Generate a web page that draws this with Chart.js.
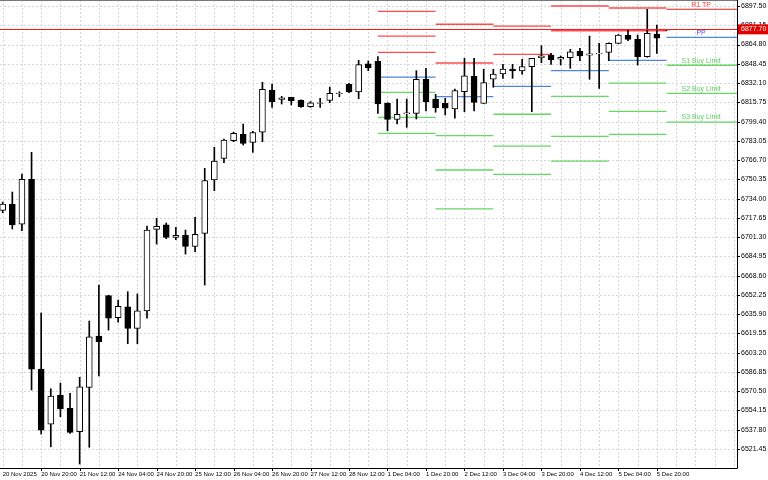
<!DOCTYPE html>
<html><head><meta charset="utf-8">
<script src="https://cdn.jsdelivr.net/npm/chart.js@4/dist/chart.umd.min.js"></script>
<style>html,body{margin:0;padding:0;background:#fff}#w{width:768px;height:480px}</style>
</head><body><div id="w"><canvas id="c"></canvas></div>
<script>
const opens=[6724,6729.1,6712.2,6750.4,6589.3,6542.6,6567,6556,6536.1,6573.8,6617.3,6651.6,6632.9,6642.2,6623.9,6638.6,6707.9,6711.8,6701.1,6702.8,6693.5,6704.5,6749.8,6768.2,6783.1,6788.6,6781.8,6790.3,6826.2,6818.3,6820,6817.4,6812,6814.9,6817.4,6823,6831,6824.5,6848.5,6850.6,6814.9,6801.3,6805.9,6806.4,6835.3,6818.5,6814.9,6810.1,6824.8,6837.8,6814.9,6835.3,6839.8,6844,6842.3,6846,6853.6,6855.9,6852.3,6853.6,6859.3,6855.7,6856.8,6858.2,6865.8,6872.9,6869.2,6854.5,6873.7,6876.9];
const highs=[6731,6739.6,6754.9,6773.3,6636.9,6572.6,6577.4,6568.7,6582.3,6630.1,6660.6,6652,6647.9,6655,6653,6710.7,6717.3,6713.3,6709.6,6707.3,6718.1,6759.7,6777.5,6784.6,6790.5,6797.3,6791.1,6832.7,6831.3,6820.8,6820,6817.9,6816.4,6819.1,6828.7,6824.7,6831.8,6851.4,6850.8,6854.5,6815.4,6818.5,6818.5,6842.6,6844.6,6822.5,6819.1,6827,6853.1,6853.1,6843.8,6843.8,6848,6848,6852.3,6853.1,6863.8,6857.3,6855.1,6860.7,6861.6,6872,6865.8,6866.3,6873.3,6877.1,6872.9,6894.7,6881.4,6877.7];
const lows=[6722,6708.2,6706.7,6571.5,6534.1,6523.3,6548.8,6534.7,6508.7,6522.9,6583.4,6622.4,6629.2,6610.8,6610.8,6632.4,6695.4,6700,6699.1,6686.9,6688.9,6660.6,6740.7,6764.5,6782.3,6779.5,6773.3,6782.3,6811.5,6814.3,6813.5,6811.5,6811.5,6811.5,6815.4,6820.5,6824,6818.8,6842.6,6806.4,6791.6,6797.3,6794.5,6801.6,6808.4,6807.3,6805,6802.2,6807.8,6808.4,6814.9,6828.5,6836.1,6836.1,6839.5,6807.8,6849.4,6848,6847.4,6844.6,6851.1,6835.3,6827.6,6851.1,6865.6,6868,6847.4,6854,6857.3,6876.5];
const closes=[6729.4,6711.6,6750.4,6589.3,6537.5,6566.4,6555.4,6535.6,6574.3,6616.7,6612.5,6632.4,6642.6,6623.9,6638.8,6707.3,6710.5,6701.1,6702.8,6693.5,6703.7,6749.2,6765.9,6783.7,6789.4,6780.9,6790,6826.8,6816.3,6819.6,6817.1,6812,6815.4,6815.2,6823.4,6823.2,6824.5,6847.7,6844.9,6814.3,6801.3,6805.6,6806.9,6835.3,6816,6811.2,6810.7,6825.6,6838.3,6815.7,6832.4,6839.8,6844,6842.3,6846,6853.1,6855.1,6851.7,6853.9,6858.7,6855.1,6856.8,6857.1,6865.8,6872.9,6869.2,6854.5,6874.3,6870.3,6877.1];
const timeLabels=["20 Nov 2025","20 Nov 20:00","21 Nov 12:00","24 Nov 04:00","24 Nov 20:00","25 Nov 12:00","26 Nov 04:00","26 Nov 20:00","27 Nov 12:00","28 Nov 12:00","1 Dec 04:00","1 Dec 20:00","2 Dec 12:00","3 Dec 04:00","3 Dec 20:00","4 Dec 12:00","5 Dec 04:00","5 Dec 20:00"];
const priceTicks=[6521.45,6537.80,6554.15,6570.50,6586.85,6603.20,6619.55,6635.90,6652.25,6668.60,6684.95,6701.30,6717.65,6734.00,6750.35,6766.70,6783.05,6799.40,6815.75,6832.10,6848.45,6864.80,6881.15,6897.50];
const dayStart=[39,45,51,57,63,69];
const dayEnd=[45,51,57,63,69,80];
const r3=[6893.0,null,null,null,null,null];
const r2=[6872.0,6882.0,6880.5,6897.5,6895.8,null];
const r1=[6858.2,6849.1,6856.5,6876.5,6876.5,6894.7];
const pp=[6837.2,6820.5,6829.3,6842.6,6851.4,6870.9];
const s1=[6824.2,6787.4,6805.6,6820.8,6832.1,6847.2];
const s2=[6803.0,6758.3,6778.6,6786.9,6808.1,6823.4];
const s3=[6789.4,6725.2,6754.6,6765.9,6788.6,6799.0];
const currentPrice=6877.70;
const levelLabels=[["R1 TP",6894.7,"#ff4040"],["PP",6870.9,"#5050e0"],["S1 Buy Limit",6847.2,"#5fcf5f"],["S2 Buy Limit",6823.4,"#5fcf5f"],["S3 Buy Limit",6799.0,"#5fcf5f"]];

const XMIN=-0.28, XMAX=76.33;
const FONT='"Liberation Sans", Arial, sans-serif';
const idx=opens.map((_,i)=>i);
function seg(arr){const d=[];arr.forEach((v,i)=>{if(v==null)return;const e=Math.min(dayEnd[i],XMAX);d.push({x:dayStart[i],y:v},{x:e,y:v},{x:e+0.001,y:null});});return d;}
function lineDs(arr,color){return {type:'line',data:seg(arr),borderColor:color,borderWidth:1.3,pointRadius:0,spanGaps:false,fill:false,order:2};}
const wicks=idx.map(i=>({x:i,y:[lows[i],highs[i]]}));
const bodies=idx.map(i=>{let o=opens[i],c=closes[i];if(Math.abs(o-c)<0.5)c=o+0.5;return {x:i,y:[Math.min(o,c),Math.max(o,c)]};});
const bodyFill=idx.map(i=>closes[i]>=opens[i]?'#ffffff':'#000000');

const overlay={id:'overlay',
 beforeDatasetsDraw(ch){const {ctx,chartArea:a,scales:{x,y}}=ch;ctx.save();
  ctx.strokeStyle='#d6d6d6';ctx.setLineDash([2,2]);ctx.lineWidth=1;
  for(let i=0;i<=76;i+=2){const px=Math.round(x.getPixelForValue(i))+0.5;if(px<a.left||px>a.right)continue;ctx.beginPath();ctx.moveTo(px,a.top);ctx.lineTo(px,a.bottom);ctx.stroke();}
  priceTicks.forEach(t=>{const py=Math.round(y.getPixelForValue(t))+0.5;ctx.beginPath();ctx.moveTo(a.left,py);ctx.lineTo(a.right,py);ctx.stroke();});
  ctx.restore();},
 afterDatasetsDraw(ch){const {ctx,chartArea:a,scales:{y}}=ch;ctx.save();ctx.setLineDash([]);
  const py=Math.round(y.getPixelForValue(currentPrice))+0.5;ctx.strokeStyle='#ff1a1a';ctx.lineWidth=1.2;ctx.beginPath();ctx.moveTo(a.left,py);ctx.lineTo(a.right,py);ctx.stroke();
  ctx.restore();},
 afterDraw(ch){const {ctx,chartArea:a,scales:{x,y}}=ch;ctx.save();
  ctx.strokeStyle='#000';ctx.lineWidth=1;ctx.beginPath();ctx.moveTo(a.left,a.bottom+0.5);ctx.lineTo(a.right+0.5,a.bottom+0.5);ctx.lineTo(a.right+0.5,a.top);ctx.stroke();
  ctx.strokeStyle='#777';ctx.beginPath();ctx.moveTo(a.left,a.top+0.5);ctx.lineTo(a.right,a.top+0.5);ctx.stroke();
  ctx.strokeStyle='#000';
  priceTicks.forEach(t=>{const py=Math.round(y.getPixelForValue(t))+0.5;ctx.beginPath();ctx.moveTo(a.right,py);ctx.lineTo(a.right+3,py);ctx.stroke();});
  timeLabels.forEach((_,k)=>{const px=Math.round(x.getPixelForValue(k*4))+0.5;if(k==0)return;ctx.beginPath();ctx.moveTo(px,a.bottom);ctx.lineTo(px,a.bottom+3);ctx.stroke();});
  ctx.font='7px '+FONT;ctx.textBaseline='bottom';ctx.textAlign='center';
  const lx=x.getPixelForValue(72.6);
  levelLabels.forEach(([t,v,c])=>{ctx.fillStyle=c;ctx.fillText(t,lx,y.getPixelForValue(v)-1);});
  const py=y.getPixelForValue(currentPrice);ctx.fillStyle='#e00000';ctx.fillRect(a.right+1,py-5,30,10);
  ctx.fillStyle='#fff';ctx.textAlign='left';ctx.textBaseline='middle';ctx.fillText(currentPrice.toFixed(2),a.right+4,py);
  ctx.restore();}
};

new Chart(document.getElementById('c'),{
 type:'bar',
 data:{datasets:[
  lineDs(r3,'#ff4c4c'),lineDs(r2,'#ff4c4c'),lineDs(r1,'#ff4c4c'),lineDs(pp,'#4f86e0'),lineDs(s1,'#66d866'),lineDs(s2,'#66d866'),lineDs(s3,'#66d866'),
  {type:'bar',data:wicks,backgroundColor:'#000',barThickness:1,grouped:false,order:1},
  {type:'bar',data:bodies,backgroundColor:bodyFill,borderColor:'#000',borderWidth:1,borderSkipped:false,barThickness:6,grouped:false,order:0}
 ]},
 options:{responsive:true,maintainAspectRatio:false,animation:false,layout:{padding:0},
  plugins:{legend:{display:false},tooltip:{enabled:false}},
  scales:{
   x:{type:'linear',offset:false,min:XMIN,max:XMAX,grid:{display:false,drawTicks:false,tickLength:0},border:{display:false},
    afterBuildTicks(s){s.ticks=timeLabels.map((_,k)=>({value:k*4}));},
    afterFit(s){s.height=12;s.paddingLeft=0;s.paddingRight=0;},
    ticks:{autoSkip:false,maxRotation:0,minRotation:0,align:'start',padding:3,color:'#000',font:{size:6,family:FONT},callback:(v)=>timeLabels[Math.round(v/4)]||''}},
   y:{position:'right',min:6505.3,max:6902.6,grid:{display:false,drawTicks:false,tickLength:0},border:{display:false},
    afterBuildTicks(s){s.ticks=priceTicks.map(v=>({value:v}));},
    afterFit(s){s.width=31;s.paddingTop=0;s.paddingBottom=0;},
    ticks:{autoSkip:false,padding:4,color:'#000',font:{size:7,family:FONT},callback:(v)=>Number(v).toFixed(2)}}
  }},
 plugins:[overlay]
});
</script></body></html>
